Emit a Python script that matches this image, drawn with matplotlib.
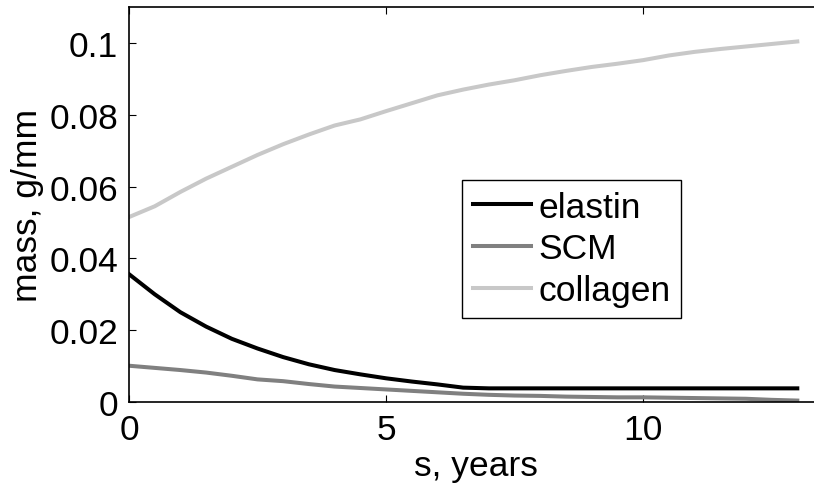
import matplotlib
matplotlib.use('Agg')
import matplotlib.pyplot as plt

# time, years
years = [0, 0.5, 1.0, 1.5, 2.0, 2.5, 3.0, 3.5, 4.0, 4.5, 5.0, 5.5, 6.0, 6.5,
         7.0, 7.5, 8.0, 8.5, 9.0, 9.5, 10.0, 10.5, 11.0, 11.5, 12.0, 12.5, 13.0]

# mass, g/mm
elastin = [0.0356, 0.0300, 0.0250, 0.0210, 0.0176, 0.0149, 0.0125, 0.0105, 0.0089,
           0.0077, 0.0066, 0.0057, 0.0049, 0.0040, 0.0038, 0.0038, 0.0038, 0.0038,
           0.0038, 0.0038, 0.0038, 0.0038, 0.0038, 0.0038, 0.0038, 0.0038, 0.0038]
scm = [0.0101, 0.0095, 0.0089, 0.0082, 0.0073, 0.0063, 0.0058, 0.0050, 0.0043,
       0.0039, 0.0035, 0.0031, 0.0027, 0.0023, 0.0020, 0.0018, 0.0017, 0.0015,
       0.0014, 0.0013, 0.0013, 0.0012, 0.0011, 0.0010, 0.0009, 0.0006, 0.0004]
collagen = [0.0515, 0.0545, 0.0585, 0.0622, 0.0655, 0.0688, 0.0718, 0.0745, 0.0770,
            0.0787, 0.0810, 0.0832, 0.0854, 0.0870, 0.0884, 0.0896, 0.0910, 0.0922,
            0.0933, 0.0942, 0.0952, 0.0965, 0.0975, 0.0983, 0.0990, 0.0997, 0.1004]

xticks = [0, 5, 10]
yticks = [0, 0.02, 0.04, 0.06, 0.08, 0.1]
yticklabels = ['0', '0.02', '0.04', '0.06', '0.08', '0.1']

plt.rcParams['font.family'] = ['Liberation Sans', 'DejaVu Sans']
fs = 25.5

fig = plt.figure(figsize=(8.14, 4.85), dpi=100)
ax = fig.add_axes([129/814, 82/485, 694/814, 395/485])

ax.plot(years, elastin, color='black', lw=2.9, label='elastin')
ax.plot(years, scm, color='#808080', lw=2.9, label='SCM')
ax.plot(years, collagen, color='#c8c8c8', lw=2.9, label='collagen')

ax.set_xlim(0, 13.5)
ax.set_ylim(0, 0.11)
ax.set_xticks(xticks)
ax.set_yticks(yticks)
ax.set_yticklabels(yticklabels)
ax.tick_params(direction='in', top=True, right=True, length=5, width=0.8,
               labelsize=fs, pad=8)
for sp in ax.spines.values():
    sp.set_linewidth(1.2)

ax.set_xlabel('s, years', fontsize=fs, labelpad=2)
ax.set_ylabel('mass, g/mm', fontsize=fs, labelpad=4)

leg = ax.legend(loc='upper left', bbox_to_anchor=(0.48, 0.562), borderaxespad=0,
                fontsize=fs, fancybox=False, framealpha=1, edgecolor='black',
                handlelength=1.65, handletextpad=0.2, labelspacing=0.25,
                borderpad=0.3)
leg.get_frame().set_linewidth(1.0)

fig.savefig('out.png', dpi=100)
